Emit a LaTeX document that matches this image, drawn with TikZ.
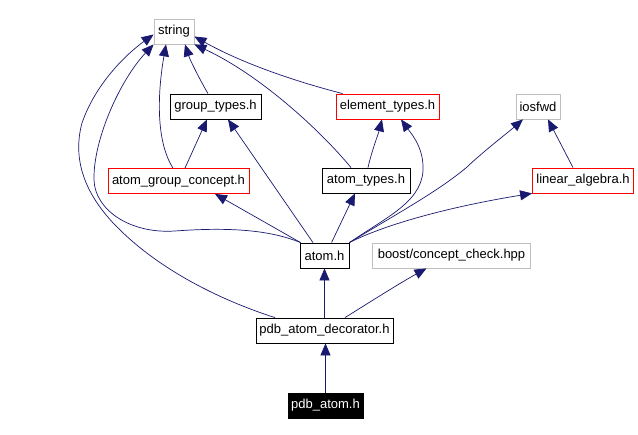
\documentclass[tikz,border=0pt]{standalone}
\usepackage{fontspec}
\setmainfont{Liberation Sans}
\usetikzlibrary{arrows.meta}
\definecolor{edgeblue}{RGB}{25,25,112}
\definecolor{boxgray}{RGB}{191,191,191}
\definecolor{boxred}{RGB}{255,0,0}
\tikzset{
  filebox/.style={draw, line width=0.8pt, rectangle, inner sep=0pt, minimum height=25pt,
    font=\fontsize{13}{15}\selectfont, fill=white},
  grayfile/.style={filebox, draw=boxgray},
  redfile/.style={filebox, draw=boxred},
  blackfile/.style={filebox, draw=black},
  mainfile/.style={filebox, draw=black, fill=black, text=white},
  dep/.style={draw=edgeblue, line width=0.7pt, -{Triangle[length=12pt,width=10pt]}, fill=none},
}
\begin{document}
\begin{tikzpicture}[x=1pt,y=-1pt]
\useasboundingbox (0,0) rectangle (638,435);
% nodes
\node[grayfile, minimum width=40pt]  (string) at (174,31.5) {string};
\node[blackfile, minimum width=91pt] (group) at (215.5,106.5) {group\_types.h};
\node[redfile, minimum width=103pt]  (element) at (387.5,106.5) {element\_types.h};
\node[grayfile, minimum width=44pt]  (iosfwd) at (538,106.5) {iosfwd};
\node[redfile, minimum width=141pt]  (agc) at (178.5,181) {atom\_group\_concept.h};
\node[blackfile, minimum width=88pt] (atypes) at (366,180.5) {atom\_types.h};
\node[redfile, minimum width=101pt]  (linalg) at (583,180.5) {linear\_algebra.h};
\node[blackfile, minimum width=49pt] (atom) at (324.5,255.5) {atom.h};
\node[grayfile, minimum width=158pt] (boost) at (451.5,255.5) {boost/concept\_check.hpp};
\node[blackfile, minimum width=137pt] (pdbdec) at (324.5,330.5) {pdb\_atom\_decorator.h};
\node[mainfile, minimum width=75pt]  (pdb) at (325.5,405.5) {pdb\_atom.h};
% edges
\draw[dep] (pdb.north) -- (pdb.north |- pdbdec.south);
\draw[dep] (pdbdec.north) -- (atom.south);
\draw[dep] ([xshift=20.5pt]pdbdec.north) .. controls (370,302) and (400,283) .. ([xshift=-25pt]boost.south);
\draw[dep] ([xshift=-49.5pt]pdbdec.north) .. controls (220,300) and (160,270) .. (118,228)
   .. controls (85,195) and (72,160) .. (82,123)
   .. controls (95,85) and (125,55) .. ([yshift=-3pt]string.west);
\draw[dep] ([xshift=1pt]atom.north west) .. controls (270,230) and (230,227) .. (175,231)
   .. controls (130,234) and (95,210) .. (94,180)
   .. controls (93,140) and (120,80) .. (string.south west);
\draw[dep] ([xshift=1pt]atom.north west) -- ([xshift=36.5pt]agc.south);
\draw[dep] ([xshift=-11.5pt]atom.north) -- ([xshift=12.5pt]group.south);
\draw[dep] ([xshift=7pt]atom.north) -- ([xshift=-11pt]atypes.south);
\draw[dep] (atom.north east) .. controls (390,215) and (425,200) .. (423,165)
   .. controls (422,145) and (410,132) .. ([xshift=13.5pt]element.south);
\draw[dep] (atom.north east) .. controls (400,212) and (440,190) .. (467,167)
   .. controls (485,150) and (505,135) .. ([xshift=-15pt]iosfwd.south);
\draw[dep] (atom.north east) .. controls (390,222) and (460,205) .. (linalg.south west);
\draw[dep] ([xshift=6.5pt]agc.north) -- ([xshift=-8.5pt]group.south);
\draw[dep] ([xshift=-5.5pt]agc.north) .. controls (155,140) and (158,90) .. ([xshift=-8pt]string.south);
\draw[dep] ([xshift=-7.5pt]group.north) .. controls (200,80) and (190,60) .. ([xshift=11pt]string.south);
\draw[dep] ([xshift=7pt]element.north west) .. controls (290,80) and (240,62) .. ([yshift=-5pt]string.east);
\draw[dep] ([xshift=-15pt]atypes.north) .. controls (320,130) and (260,75) .. (string.south east);
\draw[dep] ([xshift=2pt]atypes.north) .. controls (372,150) and (378,135) .. ([xshift=-5.5pt]element.south);
\draw[dep] ([xshift=-10pt]linalg.north) -- ([xshift=10pt]iosfwd.south);
\end{tikzpicture}
\end{document}
